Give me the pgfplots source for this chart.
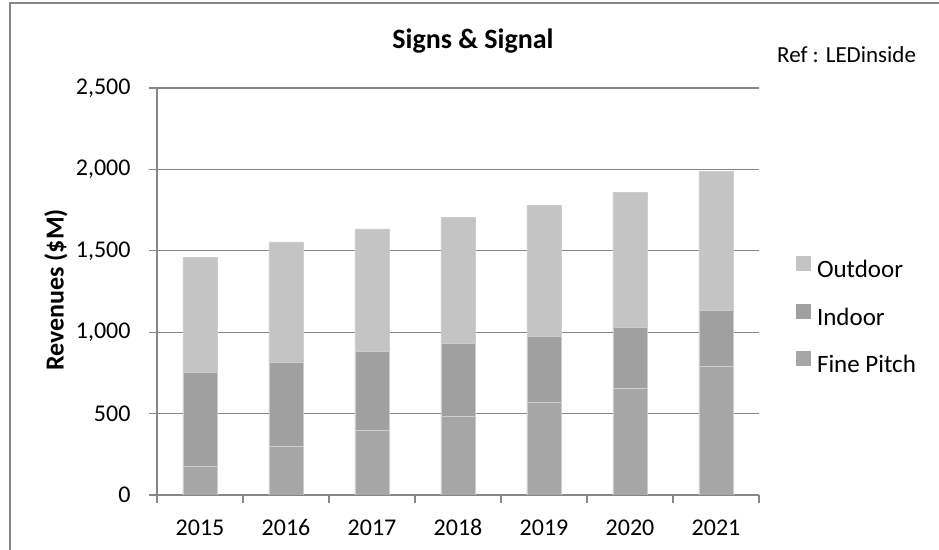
\documentclass[border=0pt]{standalone}
\usepackage{pgfplots}
\pgfplotsset{compat=1.18}
\usepackage{pgfplotstable}
\usepackage{fontspec}
\setmainfont{Carlito}
\definecolor{axisgray}{RGB}{134,134,134}
\definecolor{cfine}{RGB}{166,166,166}
\definecolor{cindoor}{RGB}{160,160,160}
\definecolor{coutdoor}{RGB}{196,196,196}
\definecolor{cedge}{RGB}{205,205,205}
\pgfplotstableread{
x fine indoor outdoor
0 178 574 708
1 297 520 737
2 397 486 752
3 485 445 775
4 569 406 804
5 657 373 831
6 792 342 852
}\datatable
\begin{document}
\begin{tikzpicture}[x=1bp,y=1bp]
\path[use as bounding box] (0,0) rectangle (939,550);
\draw[axisgray, line width=1.5bp] (10,0) -- (10,547) -- (939,547);
\begin{axis}[
  at={(157bp,55bp)}, anchor=south west,
  scale only axis, width=602bp, height=407bp,
  ybar stacked, bar width=0.4,
  xmin=-0.5, xmax=6.5, ymin=0, ymax=2500,
  axis x line*=bottom, axis y line*=left,
  axis line style={-, draw=axisgray, line width=1.2bp},
  ytick={0,500,...,2500},
  xtick={-0.5,0.5,...,6.5}, xticklabels={},
  extra x ticks={0,1,2,3,4,5,6},
  extra x tick labels={2015,2016,2017,2018,2019,2020,2021},
  extra x tick style={major tick length=0pt, grid=none},
  tick align=outside, major tick length=8bp,
  tick style={draw=axisgray, line width=1.2bp},
  ymajorgrids, grid style={draw=axisgray, line width=1.2bp},
  /pgf/number format/assume math mode=true,
  /pgf/number format/.cd, 1000 sep={,}, /pgfplots/.cd,
  tick label style={font=\fontsize{24bp}{28bp}\selectfont, text=black},
  yticklabel style={xshift=-15bp},
  xticklabel style={anchor=base, yshift=-41bp},
  ylabel={\textbf{Revenues (\$M)}},
  ylabel style={at={(axis description cs:-0.168,0.504)}, anchor=center, font=\fontsize{26bp}{30bp}\selectfont},
  legend cell align=left,
  legend style={draw=none, fill=none, inner sep=0pt, outer sep=0pt,
    at={(axis description cs:1.0615,0.586)}, anchor=north west,
    font=\fontsize{25bp}{30bp}\selectfont,
    nodes={inner sep=0pt, text height=17bp, text depth=5bp},
    row sep=21bp, column sep=6bp},
  legend image code/.code={\fill[#1,draw=none] (0bp,0.5bp) rectangle (15bp,15.5bp);},
  reverse legend,
]
\addplot[fill=cfine, draw=cedge, line width=0.4bp] table[x=x, y=fine] {\datatable};
\addplot[fill=cindoor, draw=cedge, line width=0.4bp] table[x=x, y=indoor] {\datatable};
\addplot[fill=coutdoor, draw=cedge, line width=0.4bp] table[x=x, y=outdoor] {\datatable};
\legend{Fine Pitch, Indoor, Outdoor}
\end{axis}
\node[anchor=base, font=\fontsize{28bp}{32bp}\selectfont\bfseries] at (473,501.5) {Signs \& Signal};
\node[anchor=base west, inner sep=0pt, font=\fontsize{23bp}{28bp}\selectfont] at (777,487) {Ref : LEDinside};
\end{tikzpicture}
\end{document}
